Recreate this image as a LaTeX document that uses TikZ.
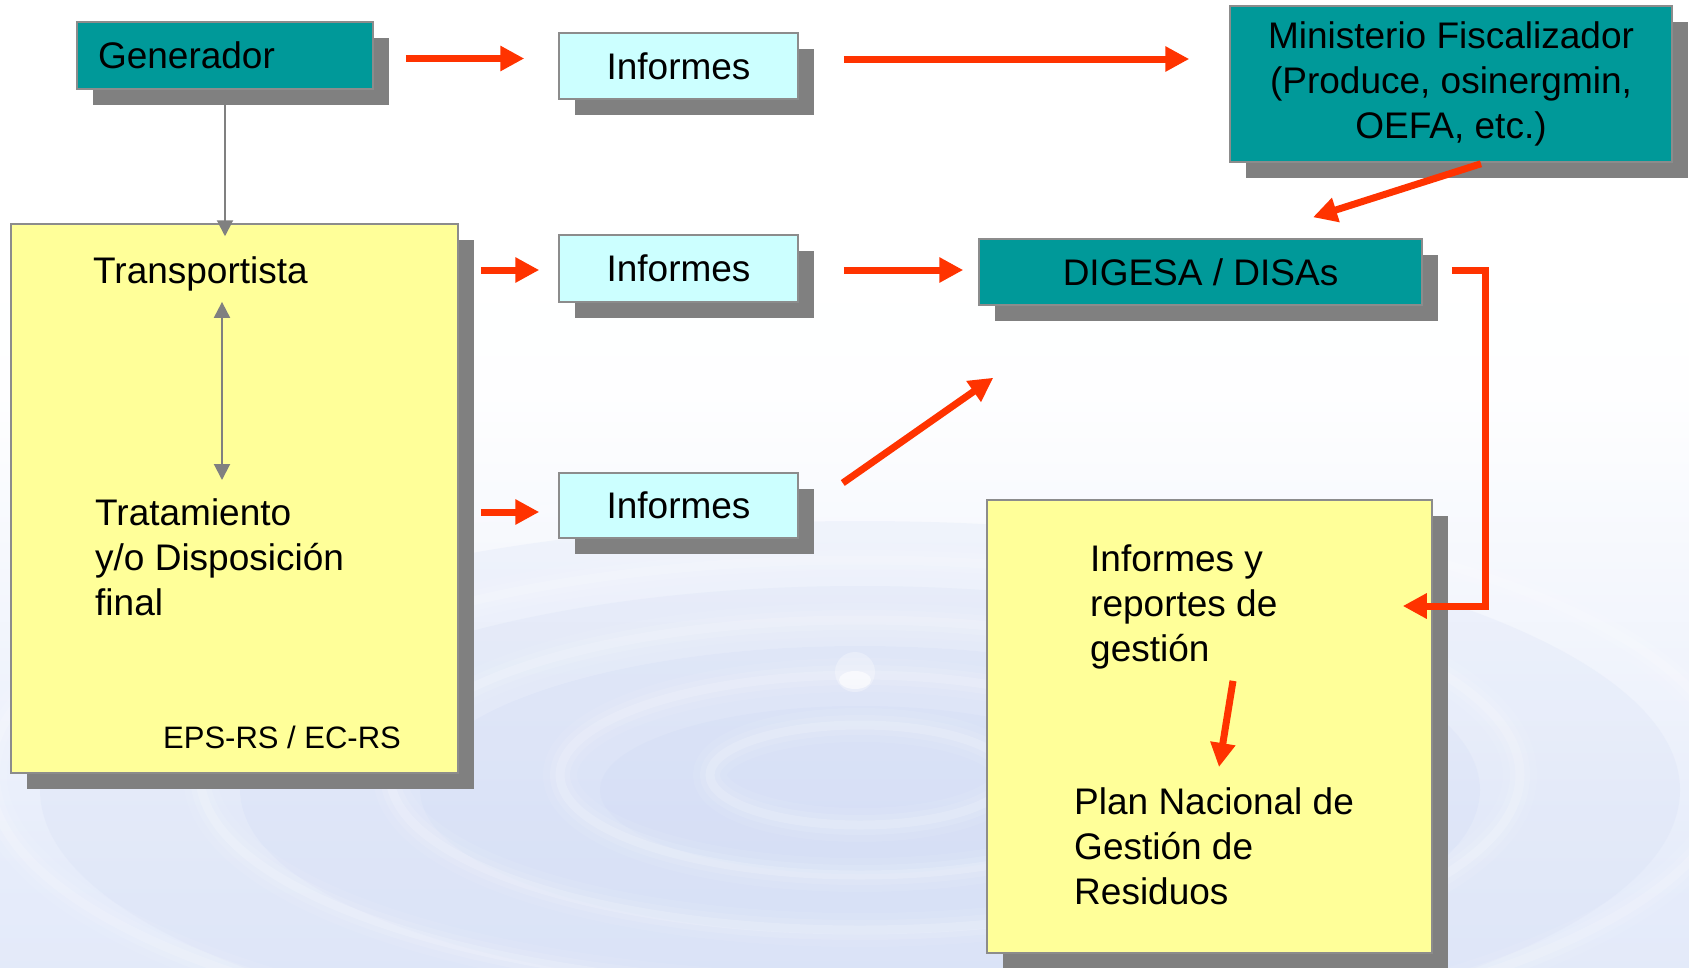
\documentclass[tikz,border=0pt]{standalone}
\usepackage{fontspec}
\setmainfont{Liberation Sans}
\usetikzlibrary{arrows.meta,shadows,calc}

\definecolor{boxteal}{HTML}{009999}
\definecolor{boxcyan}{HTML}{CCFFFF}
\definecolor{boxyellow}{HTML}{FFFF99}
\definecolor{shadowgray}{HTML}{808080}
\definecolor{boxline}{HTML}{8C8C8C}
\definecolor{arrowred}{HTML}{FF3300}
\definecolor{linegray}{HTML}{808080}
\definecolor{bgbot}{HTML}{D6DFF6}
\definecolor{bgmid}{HTML}{E6ECFA}
\definecolor{ripple}{HTML}{C9D5F3}

\pgfdeclareverticalshading{bgwater}{100bp}{color(0bp)=(bgbot); color(30bp)=(bgmid); color(55bp)=(white!97!bgmid); color(68bp)=(white); color(100bp)=(white)}

\newcommand\lblfont{\fontsize{37}{45}\selectfont}
\newcommand\smlfont{\fontsize{31}{37}\selectfont}

\begin{document}
\begin{tikzpicture}[x=1pt,y=-1pt,
  box/.style={draw=boxline, line width=1.5pt, inner sep=0pt, font=\lblfont,
    drop shadow={shadow xshift=16pt, shadow yshift=-16pt, fill=shadowgray, opacity=1}},
  tealbox/.style={box, fill=boxteal},
  cyanbox/.style={box, fill=boxcyan, minimum width=239pt},
  yelbox/.style={box, fill=boxyellow},
  txt/.style={font=\lblfont, inner sep=0pt, align=left},
  redarrow/.style={draw=arrowred, line width=7pt, -{Triangle[length=24pt,width=24pt]}},
  grayarrow/.style={draw=linegray, line width=2pt, -{Triangle[length=16pt,width=16pt]}},
  graydouble/.style={draw=linegray, line width=2pt, {Triangle[length=16pt,width=16pt]}-{Triangle[length=16pt,width=16pt]}},
  wave/.style={draw=white, line cap=round}
]
\useasboundingbox (0,0) rectangle (1689,967);

% background: pale water surface with soft ripples
\shade[shading=bgwater] (0,0) rectangle (1689,967);
\begin{scope}
  \clip (0,0) rectangle (1689,967);
  \foreach \rx/\ry in {220/70, 400/130, 580/190, 780/255}{
    \fill[ripple, opacity=0.16] (860,790) ellipse [x radius=\rx+40, y radius=\ry+14];
  }
  \foreach \rx/\ry in {150/50, 300/100, 470/155, 660/215, 870/285}{
    \draw[wave, line width=34pt, opacity=0.07] (860,775) ellipse [x radius=\rx, y radius=\ry];
    \draw[wave, line width=20pt, opacity=0.10] (860,775) ellipse [x radius=\rx, y radius=\ry];
    \draw[wave, line width=9pt, opacity=0.16] (860,775) ellipse [x radius=\rx, y radius=\ry];
  }
  \fill[white, opacity=0.3] (855,672) circle [radius=20];
  \fill[white, opacity=0.6] (855,680) ellipse [x radius=16, y radius=9];
\end{scope}

% boxes
\node[tealbox, minimum width=296pt, minimum height=67pt, inner xsep=21pt,
      text width=254pt, align=left] (gen) at (225,55.5) {Generador};
\node[cyanbox, minimum height=66pt] (inf1) at (678.5,66) {Informes};
\node[cyanbox, minimum height=67pt] (inf2) at (678.5,268.5) {Informes};
\node[cyanbox, minimum height=65pt] (inf3) at (678.5,505.5) {Informes};
\node[tealbox, minimum width=442pt, minimum height=156pt, align=center] (min) at (1451,84)
  {\raisebox{-3pt}{\parbox{420pt}{\centering Ministerio Fiscalizador\\(Produce, osinergmin,\\OEFA, etc.)}}};
\node[tealbox, minimum width=443pt, minimum height=66pt] (dig) at (1200.5,272) {DIGESA / DISAs};
\node[yelbox, minimum width=447pt, minimum height=549pt] (lbox) at (234.5,498.5) {};
\node[yelbox, minimum width=445pt, minimum height=453pt] (rbox) at (1209.5,726.5) {};

% texts inside the yellow boxes
\node[txt, anchor=base west] (ts) at (93,283) {Transportista};
\node[txt, anchor=north west] (tr) at (95,498) {Tratamiento\\y/o Disposición\\final};
\node[txt, font=\smlfont, anchor=base west] (eps) at (163,748) {EPS-RS / EC-RS};
\node[txt, anchor=north west] (irg) at (1090,545) {Informes y\\reportes de\\gestión};
\node[txt, anchor=north west] (pn) at (1074,787) {Plan Nacional de\\Gestión de\\Residuos};

% gray connectors
\draw[grayarrow] (gen.south) -- ($(gen.south |- lbox.north)+(0,13)$);
\draw[graydouble] ($(gen.south |- ts.south)+(-3,11)$) -- ($(gen.south |- tr.north)+(-3,-18)$);

% red connectors
\draw[redarrow] ($(gen.east)+(32,3)$) -- ($(gen.east -| inf1.west)+(-34,3)$);
\draw[redarrow] ($(inf1.east)+(45,-7)$) -- ($(inf1.east -| min.west)+(-40,-7)$);
\draw[redarrow] ($(lbox.east |- inf2.west)+(22,1.5)$) -- ($(inf2.west)+(-19,1.5)$);
\draw[redarrow] ($(inf2.east)+(45,1.5)$) -- ($(inf2.east -| dig.west)+(-15,1.5)$);
\draw[redarrow] ($(lbox.east |- inf3.west)+(22,6.5)$) -- ($(inf3.west)+(-19,6.5)$);
\draw[redarrow] ($(inf3.east)+(44,-22.5)$) -- ($(dig.south west)+(15,72)$);
\draw[redarrow] ($(min.south)+(30,1)$) -- ($(dig.north)+(112.5,-21)$);
\draw[redarrow] ($(dig.east)+(29,-2)$) -- ++(34,0) |- ($(rbox.east)+(-30,-120.5)$);
\draw[redarrow] ($(irg.south west)+(143,11)$) -- ($(pn.north west)+(145,-20)$);
\end{tikzpicture}
\end{document}
